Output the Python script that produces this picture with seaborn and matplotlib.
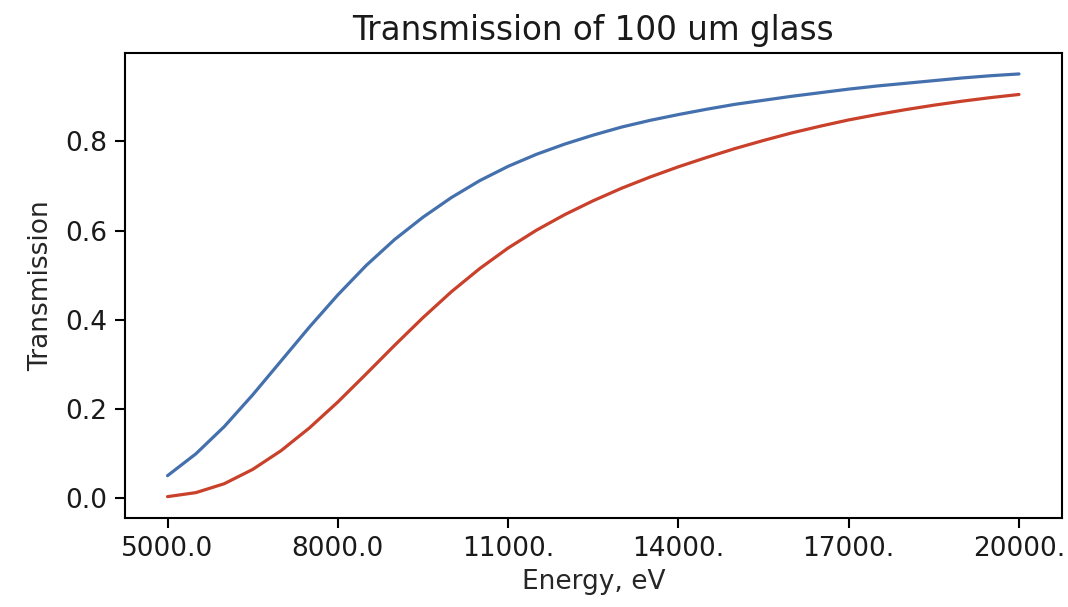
import numpy as np
import pandas as pd
import seaborn as sns
import matplotlib.pyplot as plt
from matplotlib.ticker import FixedLocator, FixedFormatter

# energies every 500 eV
energy = [5000, 5500, 6000, 6500, 7000, 7500, 8000, 8500, 9000, 9500,
          10000, 10500, 11000, 11500, 12000, 12500, 13000, 13500, 14000, 14500,
          15000, 15500, 16000, 16500, 17000, 17500, 18000, 18500, 19000, 19500,
          20000]
trans_blue = [0.051, 0.100, 0.161, 0.232, 0.308, 0.384, 0.456, 0.522, 0.580, 0.630,
              0.674, 0.712, 0.744, 0.771, 0.794, 0.814, 0.832, 0.847, 0.860, 0.872,
              0.883, 0.892, 0.901, 0.909, 0.917, 0.924, 0.930, 0.936, 0.942, 0.947,
              0.951]
trans_red = [0.004, 0.013, 0.033, 0.065, 0.107, 0.158, 0.216, 0.279, 0.343, 0.405,
             0.463, 0.515, 0.561, 0.601, 0.636, 0.667, 0.695, 0.720, 0.743, 0.764,
             0.784, 0.802, 0.819, 0.834, 0.848, 0.860, 0.871, 0.881, 0.890, 0.898,
             0.905]
series_names = ["blue", "red"]
series_colors = ["#4470ad", "#c9402b"]

xtick_values = [5000, 8000, 11000, 14000, 17000, 20000]
xtick_labels = ["5000.0", "8000.0", "11000.", "14000.", "17000.", "20000."]
ytick_values = [0.0, 0.2, 0.4, 0.6, 0.8]


def build_frame() -> pd.DataFrame:
    df = pd.DataFrame({
        "energy": energy * 2,
        "transmission": trans_blue + trans_red,
        "series": [series_names[0]] * len(energy) + [series_names[1]] * len(energy),
    })
    return df


def main():
    sns.set_theme(style="ticks")
    plt.rcParams["font.family"] = ["DejaVu Sans"]
    plt.rcParams["axes.edgecolor"] = "black"
    plt.rcParams["text.color"] = "#1a1a1a"
    plt.rcParams["xtick.color"] = "black"
    plt.rcParams["ytick.color"] = "black"
    plt.rcParams["xtick.labelcolor"] = "#1a1a1a"
    plt.rcParams["ytick.labelcolor"] = "#1a1a1a"

    df = build_frame()

    fig, ax = plt.subplots(figsize=(10.68, 6.07), dpi=100)
    fig.subplots_adjust(left=0.117, right=0.994, bottom=0.147, top=0.913)

    sns.lineplot(data=df, x="energy", y="transmission", hue="series",
                 palette=dict(zip(series_names, series_colors)),
                 linewidth=2.3, legend=False, ax=ax)

    ax.xaxis.set_major_locator(FixedLocator(xtick_values))
    ax.xaxis.set_major_formatter(FixedFormatter(xtick_labels))
    ax.set_yticks(ytick_values)
    ax.set_yticklabels([f"{v:.1f}" for v in ytick_values])

    ax.tick_params(axis="both", labelsize=19, length=7, width=1.5, pad=6)
    for spine in ax.spines.values():
        spine.set_linewidth(1.5)
        spine.set_visible(True)

    ax.set_xlabel("Energy, eV", fontsize=19, labelpad=5)
    ax.set_ylabel("Transmission", fontsize=19, labelpad=8)
    ax.set_title("Transmission of 100 um glass", fontsize=23.5, pad=9)

    fig.savefig("out.png", dpi=100)
    plt.close(fig)


if __name__ == "__main__":
    main()
